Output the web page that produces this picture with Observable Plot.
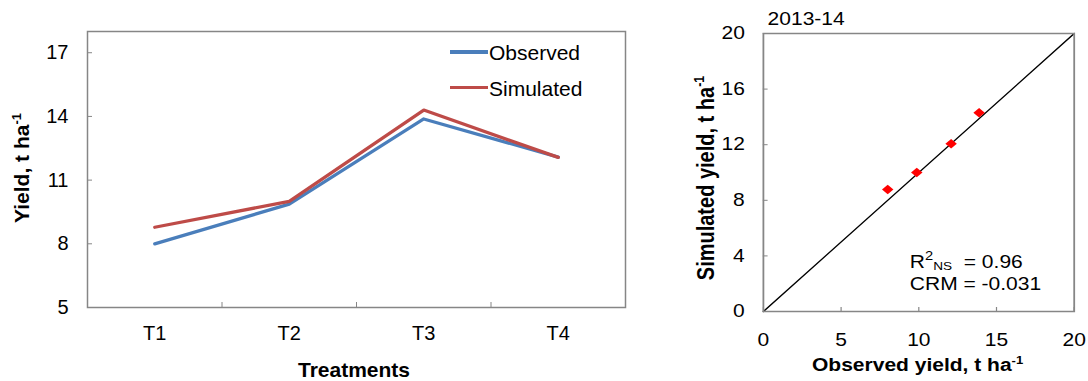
<!DOCTYPE html>
<html>
<head>
<meta charset="utf-8">
<script src="https://cdn.jsdelivr.net/npm/d3@7"></script>
<script src="https://cdn.jsdelivr.net/npm/@observablehq/plot@0.6"></script>
<style>
  html, body { margin: 0; padding: 0; background: #fff; }
  #root { position: relative; width: 1088px; height: 381px; overflow: hidden; background: #fff;
          font-family: "Liberation Sans", Arial, sans-serif; color: #000; }
  .abs { position: absolute; white-space: nowrap; line-height: 1; }
  .sup { font-size: 62%; position: relative; top: -0.62em; }
  .sub { font-size: 65%; position: relative; top: 0.2em; }
  #right { position: absolute; left: 680px; top: 0; width: 340px; height: 381px;
           transform: scaleX(1.2); transform-origin: 0 0; }
  svg { overflow: visible; }
</style>
</head>
<body>
<div id="root">
  <div id="left" style="position:absolute;left:0;top:0"></div>
  <div id="right"></div>
</div>
<script>
// ---- data ----
const treatments = ["T1", "T2", "T3", "T4"];
const observed = [8.0, 9.87, 13.88, 12.08];
const simulated = [8.78, 10.0, 14.3, 12.07];
const seriesNames = ["Observed", "Simulated"];
const seriesColors = ["#4a7ebb", "#be4b48"];
const yTicksLeft = [5, 8, 11, 14, 17];
const yDomainLeft = [5, 18];
const xTicksRight = [0, 5, 10, 15, 20];
const yTicksRight = [0, 4, 8, 12, 16, 20];
const scatterDomain = [0, 20];
const season = "2013-14";
const r2ns = "0.96";
const crm = "-0.031";

const axisGray = "#868686";
const font = "'Liberation Sans', Arial, sans-serif";

// long table for the line chart
const rows = [];
seriesNames.forEach((s, k) => {
  const vals = k === 0 ? observed : simulated;
  treatments.forEach((t, i) => rows.push({series: s, treatment: t, idx: i + 1, value: vals[i]}));
});
const pairs = treatments.map((t, i) => ({treatment: t, obs: observed[i], sim: simulated[i]}));

// ---- left chart ----
const left = Plot.plot({
  width: 640, height: 381,
  marginLeft: 87, marginRight: 15, marginTop: 31, marginBottom: 74,
  style: {fontFamily: font, fontSize: "20px", color: "#000", background: "transparent"},
  x: {domain: [0.5, treatments.length + 0.5], label: null},
  y: {domain: yDomainLeft, label: null},
  color: {domain: seriesNames, range: seriesColors},
  marks: [
    Plot.axisY({ticks: yTicksLeft, tickSize: 0, tickPadding: 19, fontSize: 20, label: null}),
    Plot.axisY({ticks: yTicksLeft, tickSize: -5, fill: "none", stroke: axisGray, label: null}),
    Plot.axisX({ticks: treatments.map((_, i) => i + 1), tickFormat: i => treatments[i - 1],
                tickSize: 0, tickPadding: 18, fontSize: 20, label: null}),
    Plot.axisX({ticks: treatments.slice(1).map((_, i) => i + 1.5), tickSize: -5, fill: "none",
                stroke: axisGray, label: null}),
    Plot.line(rows, {x: "idx", y: "value", stroke: "series", z: "series", strokeWidth: 3.3}),
    Plot.frame({stroke: axisGray, strokeWidth: 1.5})
  ]
});
const leftDiv = document.getElementById("left");
leftDiv.appendChild(left);

function addDiv(parent, html, css) {
  const d = document.createElement("div");
  d.className = "abs";
  d.innerHTML = html;
  Object.assign(d.style, css);
  parent.appendChild(d);
  return d;
}
const root = document.getElementById("root");

// legend
seriesNames.forEach((s, k) => {
  const cy = [52, 87.5][k];
  const sw = document.createElement("div");
  Object.assign(sw.style, {position: "absolute", left: "450px", top: (cy - 1.6) + "px",
    width: "38px", height: "3.3px", background: seriesColors[k]});
  root.appendChild(sw);
  addDiv(root, s, {left: "489px", top: (cy - 10) + "px", fontSize: "21px", lineHeight: "21px"});
});

// left axis titles
addDiv(root, "Treatments", {left: "354px", top: "359px", fontSize: "21px", fontWeight: "bold",
  transform: "translateX(-50%)"});
addDiv(root, 'Yield, t ha<span class="sup">-1</span>', {left: "21px", top: "168px", fontSize: "21px",
  fontWeight: "bold", transform: "translate(-50%,-50%) rotate(-90deg)"});

// ---- right chart (drawn unstretched, stretched 1.2x horizontally) ----
const right = Plot.plot({
  width: 340, height: 381,
  marginLeft: 69, marginRight: 12, marginTop: 33, marginBottom: 70,
  style: {fontFamily: font, fontSize: "17.5px", color: "#000", background: "transparent"},
  x: {domain: scatterDomain, label: null},
  y: {domain: scatterDomain, label: null},
  marks: [
    Plot.axisY({ticks: yTicksRight, tickSize: 0, tickPadding: 15.5, fontSize: 17.5, label: null}),
    Plot.axisY({ticks: yTicksRight, tickSize: -4, fill: "none", stroke: axisGray, label: null}),
    Plot.axisX({ticks: xTicksRight, tickSize: 0, tickPadding: 22, fontSize: 17.5, label: null}),
    Plot.axisX({ticks: xTicksRight, tickSize: -4, fill: "none", stroke: axisGray, label: null}),
    Plot.line(scatterDomain.map(v => ({o: v, s: v})), {x: "o", y: "s", stroke: "#000", strokeWidth: 1.2}),
    Plot.dot(pairs, {x: "obs", y: "sim", symbol: "diamond2", r: 4.3, fill: "#ff0000", stroke: "none"}),
    Plot.frame({stroke: axisGray, strokeWidth: 1.5})
  ]
});
const rightDiv = document.getElementById("right");
rightDiv.appendChild(right);
right.style.position = "absolute";
right.style.left = "0";
right.style.top = "0";

addDiv(rightDiv, season, {left: "73px", top: "11px", fontSize: "17.5px"});
addDiv(rightDiv, 'R<span class="sup" style="font-size:70%">2</span><span class="sub">NS</span>&nbsp; = ' + r2ns,
  {left: "191.5px", top: "254px", fontSize: "17.5px"});
addDiv(rightDiv, "CRM = " + crm, {left: "191.5px", top: "276px", fontSize: "17.5px"});
addDiv(rightDiv, 'Observed yield, t ha<span class="sup">-1</span>', {left: "198px", top: "357px",
  fontSize: "17.5px", fontWeight: "bold", transform: "translateX(-50%)"});
addDiv(rightDiv, 'Simulated yield, t ha<span class="sup">-1</span>', {left: "20.5px", top: "178px",
  fontSize: "20px", fontWeight: "bold", transform: "translate(-50%,-50%) rotate(-90deg)"});
</script>
</body>
</html>
